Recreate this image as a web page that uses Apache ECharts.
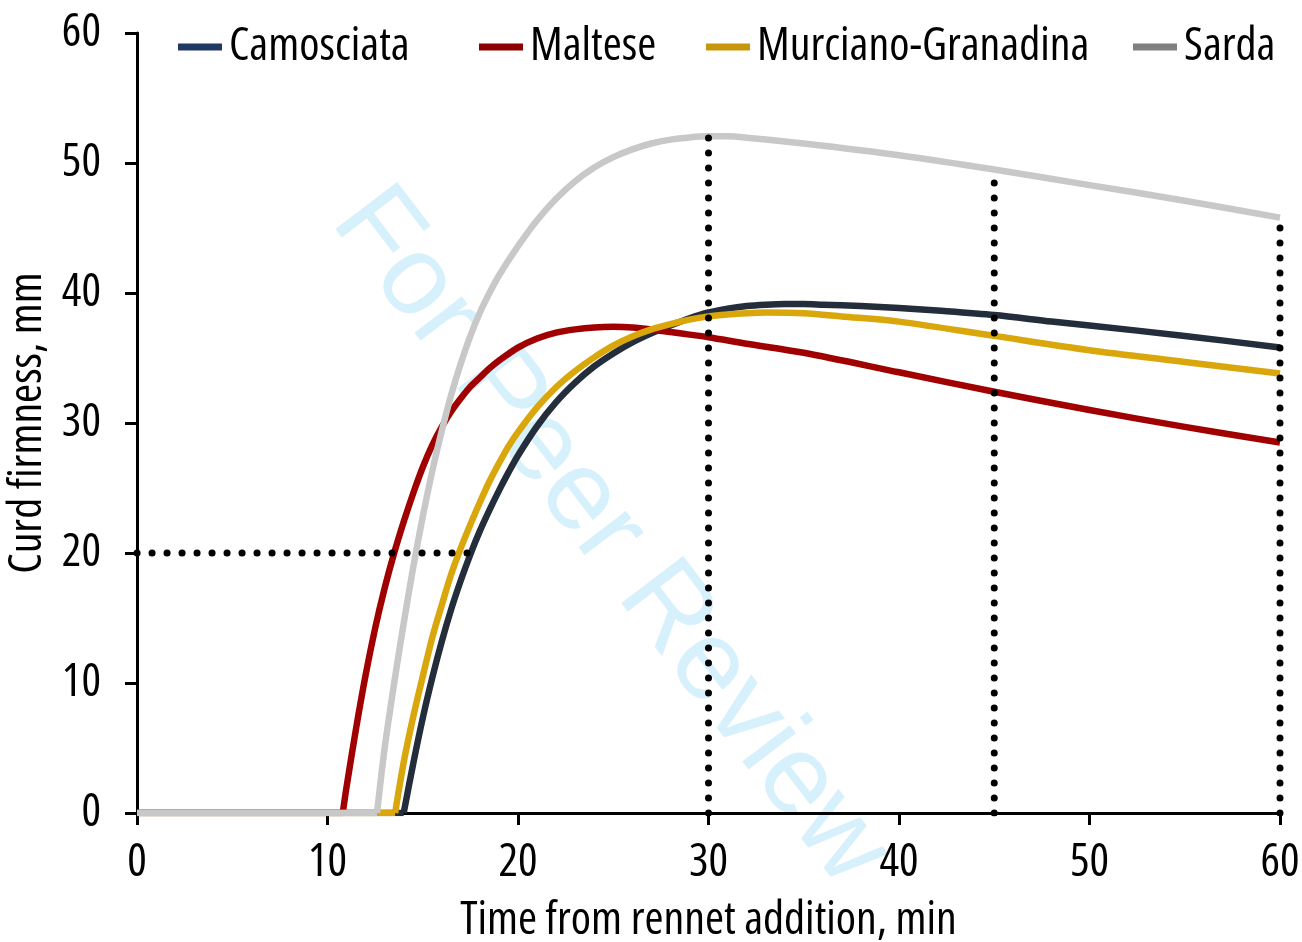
<!DOCTYPE html>
<html>
<head>
<meta charset="utf-8">
<script src="https://cdn.jsdelivr.net/npm/echarts@6/dist/echarts.min.js"></script>
<style>
html,body{margin:0;padding:0;background:#fff;}
#chart{width:1302px;height:942px;}
</style>
</head>
<body>
<div id="chart"></div>
<script>
// ---- data ----
var seriesNames = ['Camosciata', 'Maltese', 'Murciano-Granadina', 'Sarda'];

// onset of firming (min) – before it the curve stays at 0
var onsetTimes = [14.0, 10.8, 13.55, 12.6];

var camosciataT = [14.0, 14.5, 15, 15.5, 16, 16.5, 17, 17.5, 18, 18.5, 19, 19.5, 20, 21, 22, 23, 24, 25, 26, 27, 28, 29, 30, 31, 32, 33, 34, 35, 36, 38, 40, 42, 45, 48, 50, 55, 60];
var camosciataY = [0, 3.8, 7.3, 10.4, 13.2, 15.7, 17.9, 19.9, 21.7, 23.3, 24.8, 26.2, 27.5, 29.75, 31.6, 33.1, 34.35, 35.35, 36.2, 36.9, 37.5, 38.05, 38.5, 38.8, 39.0, 39.1, 39.15, 39.15, 39.1, 39.0, 38.85, 38.65, 38.3, 37.8, 37.5, 36.7, 35.8];

var malteseT = [10.8, 11, 11.5, 12, 12.5, 13, 13.5, 14, 14.5, 15, 15.5, 16, 16.5, 17, 17.5, 18, 18.5, 19, 20, 21, 22, 23, 24, 25, 26, 27, 28, 29, 30, 32, 35, 40, 45, 50, 55, 60];
var malteseY = [0, 2.0, 6.5, 10.6, 14.2, 17.3, 20.0, 22.4, 24.6, 26.6, 28.3, 29.7, 30.9, 31.9, 32.8, 33.5, 34.2, 34.8, 35.8, 36.5, 36.95, 37.2, 37.35, 37.4, 37.35, 37.2, 37.0, 36.8, 36.6, 36.1, 35.4, 33.9, 32.4, 31.0, 29.7, 28.5];

var murcianoT = [13.55, 14, 14.5, 15, 15.5, 16, 16.5, 17, 17.5, 18, 18.5, 19, 19.5, 20, 21, 22, 23, 24, 25, 26, 27, 28, 29, 30, 31, 32, 33, 35, 37, 40, 45, 50, 55, 60];
var murcianoY = [0, 3.9, 7.4, 10.5, 13.5, 16.0, 18.4, 20.4, 22.2, 23.9, 25.5, 26.9, 28.2, 29.3, 31.2, 32.75, 34.0, 35.05, 35.95, 36.65, 37.2, 37.6, 37.95, 38.2, 38.35, 38.45, 38.5, 38.45, 38.2, 37.8, 36.7, 35.6, 34.7, 33.8];

var sardaT = [12.6, 13, 13.5, 14, 14.5, 15, 15.5, 16, 16.5, 17, 17.5, 18, 18.5, 19, 20, 21, 22, 23, 24, 25, 26, 27, 28, 29, 30, 31, 32, 35, 40, 45, 50, 55, 60];
var sardaY = [0, 5.0, 10.0, 14.6, 18.9, 22.8, 26.3, 29.4, 32.2, 34.6, 36.7, 38.5, 40.0, 41.35, 43.6, 45.6, 47.25, 48.6, 49.65, 50.45, 51.05, 51.5, 51.8, 51.97, 52.05, 52.05, 51.95, 51.5, 50.6, 49.5, 48.3, 47.1, 45.8];

// dotted reference lines
var refVerticalX = [30, 45, 60];
var refVerticalTop = [52.0, 49.5, 45.8];
var refHorizontalY = 20;
var refHorizontalEnd = 17.7;

var xTicks = [0, 10, 20, 30, 40, 50, 60];
var yTicks = [0, 10, 20, 30, 40, 50, 60];

// ---- styles ----
var lineColors = ['#232d3b', '#a00000', '#d9a70b', '#c8c8c8'];
var legendColors = ['#1f3864', '#8b0000', '#c8960c', '#808080'];
var legendLeft = [173, 474, 701, 1128];

// pick the narrowest available sans face close to Arial Narrow metrics
var fontChoice = (function () {
  var cands = [
    ['normal', '"Liberation Sans Narrow"'],
    ['condensed', '"Noto Sans"'],
    ['condensed', '"Open Sans"'],
    ['normal', '"Roboto Condensed"'],
    ['normal', '"Noto Sans Condensed"'],
    ['normal', '"DejaVu Sans Condensed"']
  ];
  var ctx = document.createElement('canvas').getContext('2d');
  var target = 181, best = null;
  cands.forEach(function (c) {
    ctx.font = '10px serif';
    var f = c[0] + ' normal 42px ' + c[1] + ', "DejaVu Sans Condensed"';
    ctx.font = f;
    if (ctx.font === '10px serif') return;
    var w = ctx.measureText('Camosciata').width;
    var d = Math.abs(w - target);
    if (!best || d < best.d - 0.5) best = { style: c[0], family: c[1] + ', "DejaVu Sans Condensed", sans-serif', w: w, d: d };
  });
  var size = 42 * target / best.w;
  size = Math.max(35, Math.min(46, size));
  best.size = Math.round(size * 10) / 10;
  return best;
})();

function txt(extra) {
  var o = { fontFamily: fontChoice.family, fontStyle: fontChoice.style, fontSize: fontChoice.size, color: '#000' };
  for (var k in extra) o[k] = extra[k];
  return o;
}

var curvesT = [camosciataT, malteseT, murcianoT, sardaT];
var curvesY = [camosciataY, malteseY, murcianoY, sardaY];

function pairs(ts, ys) { return ts.map(function (t, i) { return [t, ys[i]]; }); }

var series = [];
seriesNames.forEach(function (name, i) {
  series.push({
    name: name, type: 'line', showSymbol: false, symbol: 'none',
    data: [[xTicks[0], 0], [onsetTimes[i], 0]],
    lineStyle: { color: lineColors[i], width: 6.5 },
    itemStyle: { color: legendColors[i] },
    z: 2 + i, animation: false
  });
  series.push({
    name: name, type: 'line', showSymbol: false, symbol: 'none', smooth: 0.3,
    data: pairs(curvesT[i], curvesY[i]),
    lineStyle: { color: lineColors[i], width: 6.5, join: 'round' },
    itemStyle: { color: legendColors[i] },
    z: 2 + i, animation: false
  });
});

var dotStyle = { color: '#000', width: 7, type: [0.1, 14.9], cap: 'round' };
refVerticalX.forEach(function (x, i) {
  series.push({
    type: 'line', showSymbol: false, symbol: 'none', silent: true,
    data: [[x, 0], [x, refVerticalTop[i]]],
    lineStyle: dotStyle, z: 10, animation: false
  });
});
series.push({
  type: 'line', showSymbol: false, symbol: 'none', silent: true,
  data: [[0, refHorizontalY], [refHorizontalEnd, refHorizontalY]],
  lineStyle: dotStyle, z: 10, animation: false
});

var legends = seriesNames.map(function (name, i) {
  return {
    top: 19, left: legendLeft[i], orient: 'horizontal',
    icon: 'rect', itemWidth: 44, itemHeight: 7, itemGap: 0,
    data: [{ name: name, icon: 'rect', itemStyle: { color: legendColors[i] } }],
    textStyle: txt({ padding: [0, 0, 0, 2] }),
    selectedMode: false
  };
});

var chart = echarts.init(document.getElementById('chart'), null, { renderer: 'canvas' });
chart.setOption({
  animation: false,
  backgroundColor: '#fff',
  grid: { left: 137, right: 22, top: 33, bottom: 129, containLabel: false, outerBoundsMode: 'none' },
  legend: legends,
  graphic: [{
    type: 'text', x: 610, y: 537, rotation: -52.6 * Math.PI / 180, z: -10, silent: true,
    style: { text: 'For Peer Review', font: '113px "Liberation Sans", Arial, sans-serif',
             fill: '#d6f0fc', align: 'center', verticalAlign: 'middle' }
  }],
  xAxis: {
    type: 'value', min: xTicks[0], max: xTicks[xTicks.length - 1], interval: 10,
    name: 'Time from rennet addition, min', nameLocation: 'middle', nameGap: 85,
    nameTextStyle: txt({}),
    axisLine: { show: true, onZero: false, lineStyle: { color: '#000', width: 3 } },
    axisTick: { show: true, length: 12, lineStyle: { color: '#000', width: 3 } },
    axisLabel: txt({ margin: 27 }),
    splitLine: { show: false }
  },
  yAxis: {
    type: 'value', min: yTicks[0], max: yTicks[yTicks.length - 1], interval: 10,
    name: 'Curd firmness, mm', nameLocation: 'middle', nameGap: 84, nameRotate: 90,
    nameTextStyle: txt({}),
    axisLine: { show: true, onZero: false, lineStyle: { color: '#000', width: 3 } },
    axisTick: { show: true, length: 12, lineStyle: { color: '#000', width: 3 } },
    axisLabel: txt({ margin: 36 }),
    splitLine: { show: false }
  },
  series: series
});
</script>
</body>
</html>
